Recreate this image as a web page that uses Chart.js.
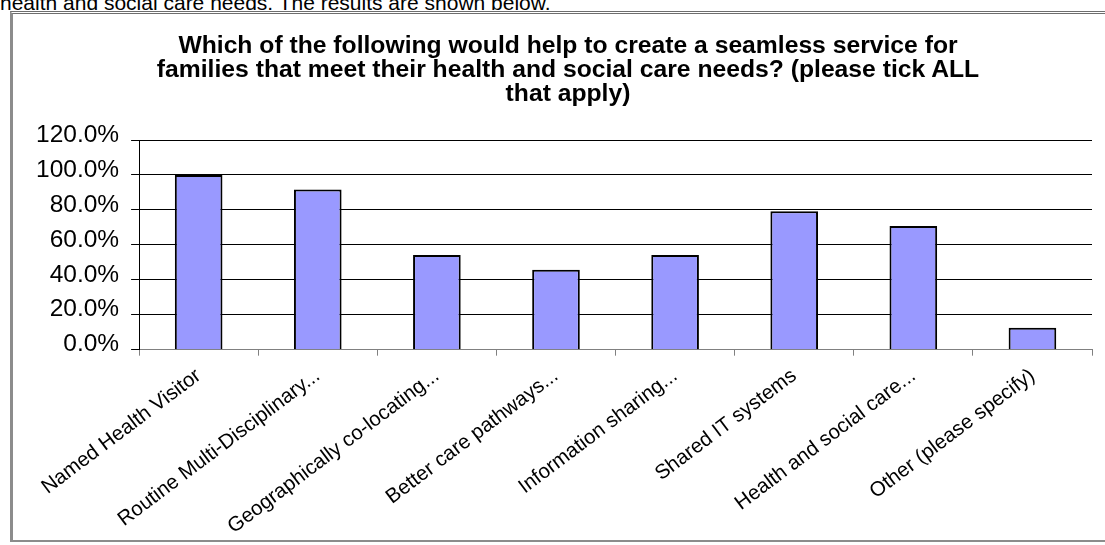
<!DOCTYPE html>
<html>
<head>
<meta charset="utf-8">
<script src="https://cdn.jsdelivr.net/npm/chart.js@4/dist/chart.umd.min.js"></script>
<style>
  body { margin: 0; background: #fff; overflow: hidden; }
  .intro {
    position: absolute; left: 0; top: -9px; line-height: 21px;
    font: 21px "Liberation Sans", Arial, sans-serif; color: #000; white-space: nowrap;
  }
  .frame {
    position: absolute; left: 10px; top: 11px; width: 1100px; height: 526px;
    border-left: 3px solid #8c8c8c; border-top: 3px double #6e6e6e; border-bottom: 2px solid #8c8c8c;
  }
  .wrap { position: absolute; left: 0; top: 0; width: 1105px; height: 545px; }
  .title {
    position: absolute; left: 118px; top: 33px; width: 900px; text-align: center;
    font: bold 24.7px "Liberation Sans", Arial, sans-serif; line-height: 24px; color: #000;
  }
</style>
</head>
<body>
<div class="intro">health and social care needs. The results are shown below.</div>
<div class="frame"></div>
<div class="wrap"><canvas id="myChart"></canvas></div>
<div class="title" id="chartTitle"></div>
<script>
const titleLines = [
  "Which of the following would help to create a seamless service for",
  "families that meet their health and social care needs? (please tick ALL",
  "that apply)"
];
const categories = [
  "Named Health Visitor",
  "Routine Multi-Disciplinary...",
  "Geographically co-locating...",
  "Better care pathways...",
  "Information sharing...",
  "Shared IT systems",
  "Health and social care...",
  "Other (please specify)"
];
const percentages = [100.0, 91.7, 54.2, 45.8, 54.2, 79.2, 70.8, 12.5];
const yTicks = [0, 20, 40, 60, 80, 100, 120];

document.getElementById("chartTitle").innerHTML = titleLines.join("<br>");

const ctx = document.getElementById("myChart").getContext("2d");
const myChart = new Chart(ctx, {
  type: "bar",
  data: {
    labels: categories,
    datasets: [
      {
        label: "Responses",
        data: percentages,
        backgroundColor: "#9999ff",
        borderColor: "#000000",
        borderWidth: 2,
        categoryPercentage: 0.8,
        barPercentage: 0.5,
      },
    ],
  },
  options: {
    responsive: true,
    maintainAspectRatio: false,
    animation: false,
    layout: { padding: { left: 24, right: 13, top: 140, bottom: -2 } },
    plugins: {
      legend: { display: false },
      tooltip: { enabled: false },
      title: { display: false },
    },
    scales: {
      x: {
        offset: true,
        grid: { display: true, drawOnChartArea: false, offset: true, color: "#808080", tickLength: 6 },
        border: { display: true, color: "#808080" },
        ticks: {
          autoSkip: false,
          maxRotation: 37,
          minRotation: 37,
          color: "#000",
          padding: 8,
          font: { family: "Liberation Sans", size: 20.5 },
        },
      },
      y: {
        min: 0,
        max: 120,
        afterBuildTicks: (axis) => { axis.ticks = yTicks.map((v) => ({ value: v })); },
        grid: { color: "#000", tickLength: 8, drawTicks: true },
        border: { display: true, color: "#000" },
        ticks: {
          color: "#000",
          padding: 12,
          labelOffset: -5,
          font: { family: "Liberation Sans", size: 24.5 },
          callback: (v) => v.toFixed(1) + "%",
        },
      },
    },
  },
});
</script>
</body>
</html>
